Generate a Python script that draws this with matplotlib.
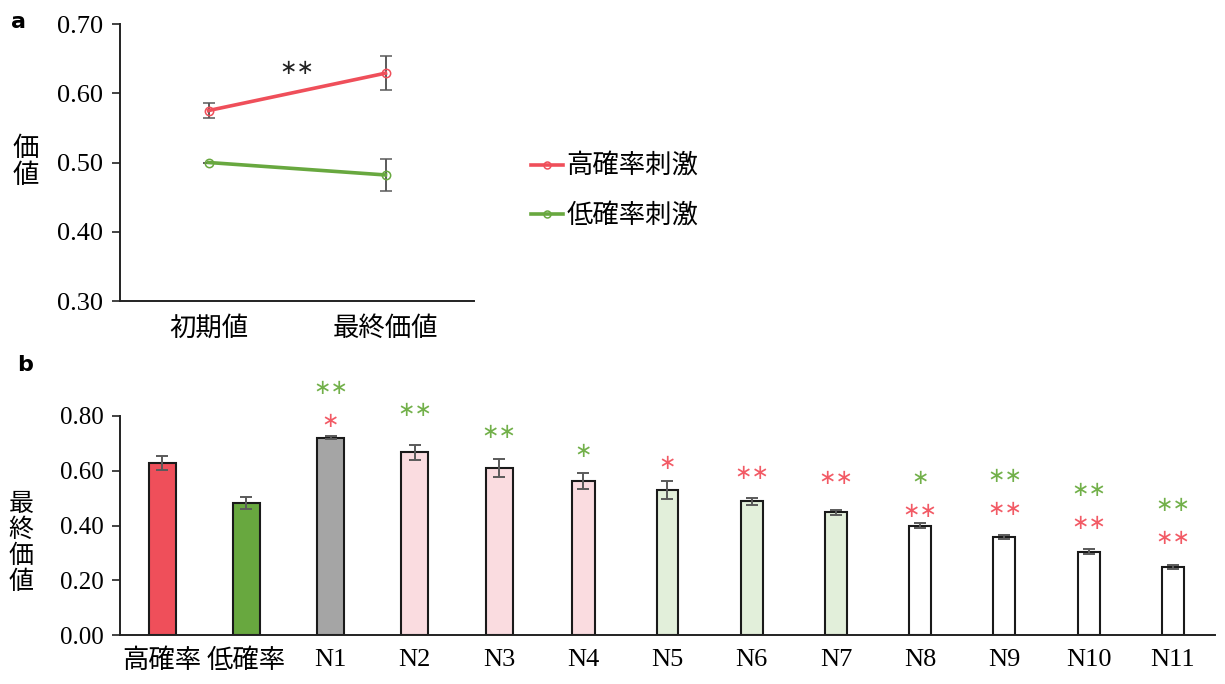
import matplotlib
matplotlib.use("Agg")
import matplotlib.pyplot as plt
from matplotlib.lines import Line2D
import numpy as np

SERIF = ['Liberation Serif', 'Noto Sans CJK JP']
GOTHIC = ['Noto Sans CJK JP', 'DejaVu Sans']
plt.rcParams['font.family'] = SERIF

# ---- panel a: initial vs final value ----
stages = ['初期値', '最終価値']
high_vals = [0.575, 0.629]
high_err = [0.011, 0.025]
low_vals = [0.500, 0.482]
low_err = [0.0, 0.023]
series_names = ['高確率刺激', '低確率刺激']
a_yticks = [0.30, 0.40, 0.50, 0.60, 0.70]

# ---- panel b: final value per stimulus ----
bar_labels = ['高確率', '低確率', 'N1', 'N2', 'N3', 'N4', 'N5', 'N6', 'N7',
              'N8', 'N9', 'N10', 'N11']
bar_vals = [0.628, 0.482, 0.721, 0.667, 0.610, 0.564, 0.530, 0.488, 0.448,
            0.400, 0.359, 0.304, 0.248]
bar_err = [0.025, 0.023, 0.005, 0.028, 0.033, 0.029, 0.034, 0.012, 0.010,
           0.008, 0.007, 0.009, 0.008]
b_yticks = [0.00, 0.20, 0.40, 0.60, 0.80]

# significance marks above bars (versus low / high probability stimulus)
green_marks = ['', '', '**', '**', '**', '*', '', '', '', '*', '**', '**', '**']
green_mark_y = [0, 0, 0.902, 0.822, 0.743, 0.672, 0, 0, 0, 0.575, 0.581, 0.530, 0.475]
red_marks = ['', '', '*', '', '', '', '*', '**', '**', '**', '**', '**', '**']
red_mark_y = [0, 0, 0.782, 0, 0, 0, 0.630, 0.593, 0.575, 0.454, 0.460, 0.408, 0.353]

RED = '#EF4F5A'
GREEN = '#68A83F'
RED_STAR = '#F25A65'
GREEN_STAR = '#72B04A'
ERR = '#5A5A5A'
SPINE = '#222222'

bar_colors = [RED, GREEN, '#A5A5A5', '#FADCE0', '#FADCE0', '#FADCE0',
              '#E2EFDA', '#E2EFDA', '#E2EFDA', 'white', 'white', 'white', 'white']
bar_widths = [0.32, 0.32, 0.32, 0.32, 0.32, 0.27, 0.26, 0.26, 0.26, 0.26,
              0.26, 0.26, 0.26]

W, H = 1225, 684
fig = plt.figure(figsize=(W / 100, H / 100), dpi=100)


def px_axes(x0, y0, x1, y1):
    return fig.add_axes([x0 / W, 1 - y1 / H, (x1 - x0) / W, (y1 - y0) / H])


def style_axes(ax):
    for s in ['top', 'right']:
        ax.spines[s].set_visible(False)
    for s in ['left', 'bottom']:
        ax.spines[s].set_color(SPINE)
        ax.spines[s].set_linewidth(1.4)
    ax.tick_params(axis='y', direction='out', length=6, width=1.2,
                   color=SPINE, pad=6)
    ax.tick_params(axis='x', length=0, pad=10)


def stars(ax, x, y, marks, color, size=15):
    # '*' marks rendered with the asterisk-operator glyph (centred on the line)
    ax.text(x, y, '∗' * len(marks), ha='center', va='center',
            fontsize=size, color=color, family=['DejaVu Sans'], clip_on=False)


# panel a
axa = px_axes(120, 24, 474, 301)
xa = np.arange(len(stages))
for vals, err, col, name in [(high_vals, high_err, RED, series_names[0]),
                             (low_vals, low_err, GREEN, series_names[1])]:
    axa.errorbar(xa, vals, yerr=err, color=col, lw=2.6, marker='o',
                 ms=6, mfc='none', mec=col, mew=1.1, ecolor=ERR, elinewidth=1.4,
                 capsize=4, capthick=1.4, label=name, zorder=3)
axa.set_xlim(-0.5, 1.5)
axa.set_ylim(0.30, 0.70)
axa.set_yticks(a_yticks)
axa.set_yticklabels([f'{v:.2f}' for v in a_yticks], fontsize=19, family=SERIF)
axa.set_xticks(xa)
axa.set_xticklabels(stages, fontsize=19, family=GOTHIC)
style_axes(axa)
stars(axa, 0.5, 0.636, '**', '#222222', 15)

leg_handles = [Line2D([], [], color=RED, lw=2.6, marker='o', ms=5, mfc='none', mec=RED, mew=1.1),
               Line2D([], [], color=GREEN, lw=2.6, marker='o', ms=5, mfc='none', mec=GREEN, mew=1.1)]
fig.legend(leg_handles, series_names, loc='center left',
           bbox_to_anchor=(531 / W, 1 - 191 / H), frameon=False,
           prop={'family': 'Noto Sans CJK JP', 'size': 19},
           handlelength=1.2, handletextpad=0.15, labelspacing=0.85,
           borderaxespad=0, borderpad=0)

fig.text(26 / W, 1 - 162 / H, '価\n値', ha='center', va='center', fontsize=19,
         family=GOTHIC, linespacing=1.0)
fig.text(18 / W, 1 - 22 / H, 'a', ha='center', va='center', fontsize=16,
         fontweight='bold', family=['DejaVu Sans'])

# panel b
axb = px_axes(120, 416, 1215, 635)
xb = np.arange(len(bar_labels))
axb.bar(xb, bar_vals, width=bar_widths, color=bar_colors, edgecolor='#1a1a1a',
        linewidth=1.5, zorder=2)
axb.errorbar(xb, bar_vals, yerr=bar_err, fmt='none', ecolor=ERR,
             elinewidth=1.4, capsize=4, capthick=1.4, zorder=3)
axb.set_xlim(-0.5, len(bar_labels) - 0.5)
axb.set_ylim(0.0, 0.80)
axb.set_yticks(b_yticks)
axb.set_yticklabels([f'{v:.2f}' for v in b_yticks], fontsize=18, family=SERIF)
axb.set_xticks(xb)
axb.set_xticklabels(bar_labels, fontsize=19, family=SERIF)
style_axes(axb)

for i in range(len(bar_labels)):
    if green_marks[i]:
        stars(axb, xb[i], green_mark_y[i], green_marks[i], GREEN_STAR)
    if red_marks[i]:
        stars(axb, xb[i], red_mark_y[i], red_marks[i], RED_STAR)

fig.text(21 / W, 1 - 543 / H, '最\n終\n価\n値', ha='center', va='center',
         fontsize=18, family=GOTHIC, linespacing=1.0)
fig.text(25 / W, 1 - 365 / H, 'b', ha='center', va='center', fontsize=16,
         fontweight='bold', family=['DejaVu Sans'])

fig.savefig('out.png', dpi=100)
